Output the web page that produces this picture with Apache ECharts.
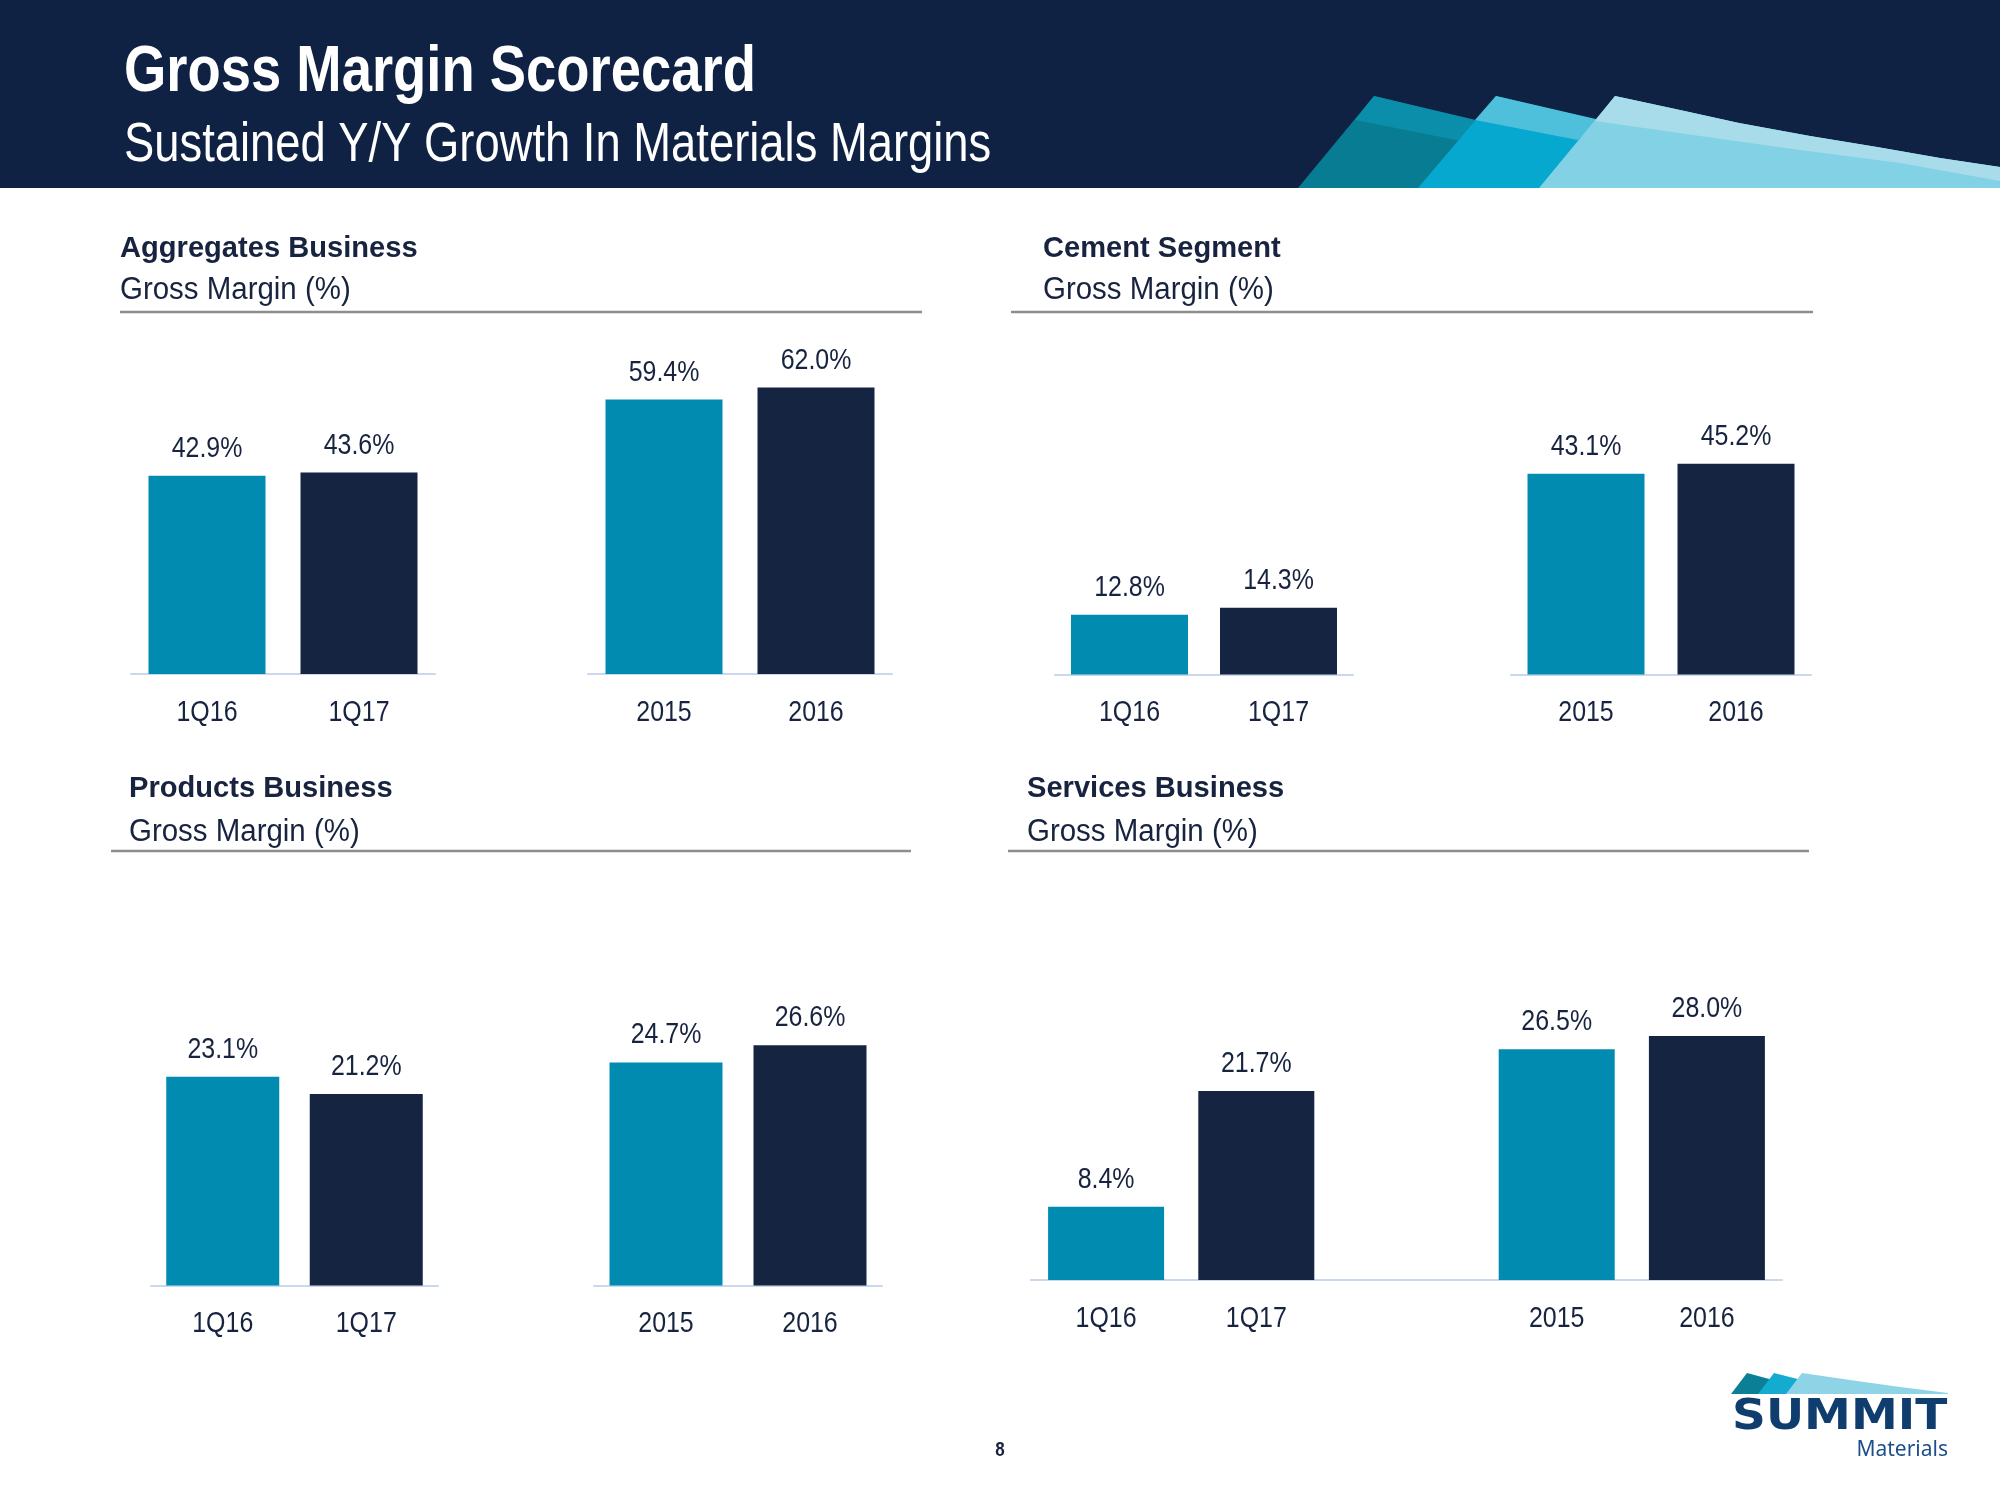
<!DOCTYPE html>
<html>
<head>
<meta charset="utf-8">
<script src="https://cdn.jsdelivr.net/npm/echarts@6/dist/echarts.min.js"></script>
<style>
  html, body { margin: 0; padding: 0; background: #ffffff; }
  #chart { width: 2000px; height: 1500px; }
</style>
</head>
<body>
<div id="chart"></div>
<script>
// ---- data ----
const quarterCats = ['1Q16', '1Q17'];
const yearCats = ['2015', '2016'];
const aggregatesQuarter = [42.9, 43.6];
const aggregatesYear = [59.4, 62.0];
const cementQuarter = [12.8, 14.3];
const cementYear = [43.1, 45.2];
const productsQuarter = [23.1, 21.2];
const productsYear = [24.7, 26.6];
const servicesQuarter = [8.4, 21.7];
const servicesYear = [26.5, 28.0];
const firstPeriods = ['1Q16', '2015'];

// ---- styles ----
const SANS = "'Liberation Sans', Arial, sans-serif";
const NARROW_X = 0.86;          // horizontal squeeze to mimic Arial Narrow
const TEAL = '#028bb1';
const NAVY = '#152441';
const TEXT = '#17233f';
const AXIS = '#c9d8ea';

const chart = echarts.init(document.getElementById('chart'), null, { renderer: 'canvas', width: 2000, height: 1500 });

// panel grids: [left, width, top, height]
const panels = [
  { cats: quarterCats, vals: aggregatesQuarter, g: [131, 304, 350.6, 323.4], max: 70, bw: 117 },
  { cats: yearCats, vals: aggregatesYear, g: [588, 304, 350.6, 323.4], max: 70, bw: 117 },
  { cats: quarterCats, vals: cementQuarter, g: [1055, 298, 348.3, 326.2], max: 70, bw: 117 },
  { cats: yearCats, vals: cementYear, g: [1511, 300, 348.3, 326.2], max: 70, bw: 117 },
  { cats: quarterCats, vals: productsQuarter, g: [151, 287, 1014.5, 271], max: 30, bw: 113 },
  { cats: yearCats, vals: productsYear, g: [594, 288, 1014.5, 271], max: 30, bw: 113 },
  { cats: quarterCats.concat([''], yearCats), vals: servicesQuarter.concat(['-'], servicesYear), g: [1031, 751, 1018.7, 261.3], max: 30, bw: 116 }
];

const grid = [], xAxis = [], yAxis = [], series = [];
panels.forEach((p, i) => {
  grid.push({ left: p.g[0], width: p.g[1], top: p.g[2], height: p.g[3], containLabel: false });
  xAxis.push({
    type: 'category', gridIndex: i, data: p.cats,
    axisLine: { show: true, lineStyle: { color: AXIS, width: 2 } },
    axisTick: { show: false },
    axisLabel: { show: false },
    splitLine: { show: false }
  });
  yAxis.push({ type: 'value', gridIndex: i, min: 0, max: p.max, show: false, splitLine: { show: false } });
  series.push({
    type: 'bar', xAxisIndex: i, yAxisIndex: i, data: p.vals, barWidth: p.bw,
    itemStyle: { color: params => firstPeriods.indexOf(params.name) >= 0 ? TEAL : NAVY },
    silent: true, animation: false
  });
  // value labels and category labels, placed through the axes' own scales
  const cats = p.cats;
  series.push({
    type: 'custom', xAxisIndex: i, yAxisIndex: i, silent: true, animation: false,
    data: p.vals.map((v, k) => [k, v === '-' ? null : v]),
    renderItem: function (params, api) {
      const k = api.value(0);
      const v = api.value(1);
      const base = api.coord([k, 0]);
      const children = [{
        type: 'text', x: base[0], y: base[1] + 24, scaleX: NARROW_X,
        style: { text: cats[k], x: 0, y: 0, font: 'normal 29px ' + SANS, fill: TEXT, align: 'center', verticalAlign: 'top' }
      }];
      if (v != null && !isNaN(v)) {
        const top = api.coord([k, v]);
        children.push({
          type: 'text', x: top[0], y: top[1] - 12.5, scaleX: NARROW_X,
          style: { text: Number(v).toFixed(1) + '%', x: 0, y: 0, font: 'normal 29px ' + SANS, fill: TEXT, align: 'center', verticalAlign: 'bottom' }
        });
      }
      return { type: 'group', children: children };
    }
  });
});

function txt(text, x, y, size, weight, color, align, sx, family) {
  return {
    type: 'text', silent: true, x: x, y: y, scaleX: sx || 1,
    style: {
      text: text, x: 0, y: 0, fill: color || TEXT,
      font: (weight || 'normal') + ' ' + size + 'px ' + (family || SANS),
      align: align || 'left', verticalAlign: 'middle'
    }
  };
}
function poly(points, color) {
  return { type: 'polygon', silent: true, shape: { points: points }, style: { fill: color } };
}
function rule(x1, x2, y) {
  return { type: 'line', silent: true, shape: { x1: x1, y1: y, x2: x2, y2: y }, style: { stroke: '#8d8d8d', lineWidth: 2.5 } };
}

const graphic = [
  // header band
  { type: 'rect', silent: true, shape: { x: 0, y: 0, width: 2000, height: 188 }, style: { fill: '#0f2244' } },
  // header decoration
  poly([[1298, 188], [1374, 96], [1520, 132], [1520, 188]], '#087c93'),
  poly([[1374, 96], [1480, 121], [1461, 141], [1355, 120]], '#0b8ea9'),
  poly([[1418, 188], [1496, 96], [1640, 130], [1640, 188]], '#07a8cf'),
  poly([[1496, 96], [1600, 120], [1578, 140], [1475, 120]], '#4fc0dc'),
  poly([[1539, 188], [1615, 96], [1680, 110], [1739, 123], [1810, 136], [1877, 147], [1940, 158], [2000, 167], [2000, 188]], '#82d1e4'),
  poly([[1615, 96], [1680, 110], [1739, 123], [1810, 136], [1877, 147], [1940, 158], [2000, 167], [2000, 181], [1900, 163], [1800, 150], [1700, 136], [1595, 121]], '#a8dcea'),
  txt('Gross Margin Scorecard', 124, 73, 64, 'bold', '#ffffff', 'left', 0.85),
  txt('Sustained Y/Y Growth In Materials Margins', 124, 146, 56, 'normal', '#ffffff', 'left', 0.81),
  // panel headings
  txt('Aggregates Business', 120, 248.5, 30, 'bold', TEXT, 'left', 0.97),
  txt('Gross Margin (%)', 120, 290.5, 31, 'normal', TEXT, 'left', 0.95),
  rule(120, 922, 312),
  txt('Cement Segment', 1043, 248.5, 30, 'bold', TEXT, 'left', 0.97),
  txt('Gross Margin (%)', 1043, 290.5, 31, 'normal', TEXT, 'left', 0.95),
  rule(1011, 1813, 312),
  txt('Products Business', 129, 788.5, 30, 'bold', TEXT, 'left', 0.97),
  txt('Gross Margin (%)', 129, 832.5, 31, 'normal', TEXT, 'left', 0.95),
  rule(111, 911, 851),
  txt('Services Business', 1027, 788.5, 30, 'bold', TEXT, 'left', 0.97),
  txt('Gross Margin (%)', 1027, 832.5, 31, 'normal', TEXT, 'left', 0.95),
  rule(1008, 1809, 851),
  // page number
  txt('8', 1000, 1450, 20, 'bold', TEXT, 'center', 0.85),
  // logo
  poly([[1731, 1394], [1747, 1373], [1795, 1386], [1795, 1394]], '#0a7f96'),
  poly([[1758, 1394], [1774, 1373], [1825, 1386], [1825, 1394]], '#13acd0'),
  poly([[1786, 1394], [1802, 1373], [1850, 1380], [1900, 1387], [1948, 1393], [1948, 1394]], '#8fd3e6'),
  txt('SUMMIT', 1732, 1418, 42, 'bold', '#0f3d6e', 'left', 1.12, "'DejaVu Sans', sans-serif"),
  txt('Materials', 1948, 1450, 21, 'normal', '#1d4f8a', 'right', 1, "'Noto Sans', sans-serif")
];

chart.setOption({
  backgroundColor: '#ffffff',
  animation: false,
  grid: grid, xAxis: xAxis, yAxis: yAxis, series: series,
  graphic: graphic
});
</script>
</body>
</html>
